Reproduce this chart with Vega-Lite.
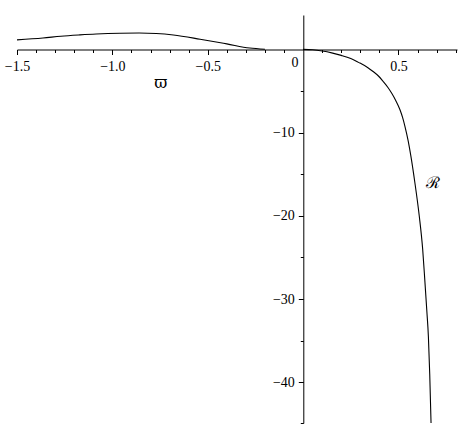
{
  "$schema": "https://vega.github.io/schema/vega-lite/v6.json",
  "width": 440,
  "height": 408,
  "autosize": "none",
  "padding": {"left": 17, "top": 15, "right": 6, "bottom": 9},
  "background": "white",
  "config": {"view": {"stroke": null}, "font": "Liberation Serif"},
  "datasets": {
    "curve": [
      {"w": -1.5, "R": 1.14, "branch": "L"},
      {"w": -1.364, "R": 1.36, "branch": "L"},
      {"w": -1.27, "R": 1.58, "branch": "L"},
      {"w": -1.17, "R": 1.74, "branch": "L"},
      {"w": -1.085, "R": 1.85, "branch": "L"},
      {"w": -0.96, "R": 1.94, "branch": "L"},
      {"w": -0.86, "R": 1.96, "branch": "L"},
      {"w": -0.77, "R": 1.9, "branch": "L"},
      {"w": -0.68, "R": 1.72, "branch": "L"},
      {"w": -0.54, "R": 1.22, "branch": "L"},
      {"w": -0.4, "R": 0.66, "branch": "L"},
      {"w": -0.28, "R": 0.16, "branch": "L"},
      {"w": -0.2, "R": 0.02, "branch": "L"},
      {"w": 0.0, "R": 0.0, "branch": "R"},
      {"w": 0.05, "R": -0.05, "branch": "R"},
      {"w": 0.1, "R": -0.2, "branch": "R"},
      {"w": 0.15, "R": -0.42, "branch": "R"},
      {"w": 0.2, "R": -0.72, "branch": "R"},
      {"w": 0.25, "R": -1.1, "branch": "R"},
      {"w": 0.298, "R": -1.65, "branch": "R"},
      {"w": 0.34, "R": -2.2, "branch": "R"},
      {"w": 0.367, "R": -2.66, "branch": "R"},
      {"w": 0.395, "R": -3.2, "branch": "R"},
      {"w": 0.42, "R": -3.86, "branch": "R"},
      {"w": 0.444, "R": -4.55, "branch": "R"},
      {"w": 0.464, "R": -5.25, "branch": "R"},
      {"w": 0.487, "R": -6.2, "branch": "R"},
      {"w": 0.508, "R": -7.25, "branch": "R"},
      {"w": 0.522, "R": -8.2, "branch": "R"},
      {"w": 0.534, "R": -9.24, "branch": "R"},
      {"w": 0.551, "R": -11.0, "branch": "R"},
      {"w": 0.565, "R": -12.8, "branch": "R"},
      {"w": 0.586, "R": -16.0, "branch": "R"},
      {"w": 0.609, "R": -20.0, "branch": "R"},
      {"w": 0.627, "R": -24.0, "branch": "R"},
      {"w": 0.639, "R": -28.0, "branch": "R"},
      {"w": 0.649, "R": -31.5, "branch": "R"},
      {"w": 0.657, "R": -34.5, "branch": "R"},
      {"w": 0.664, "R": -39.0, "branch": "R"},
      {"w": 0.671, "R": -45, "branch": "R"}
    ],
    "labels": [
      {"x": -0.746, "y": -4.0, "text": "ϖ"},
      {"x": 0.68, "y": -16.1, "text": "ℛ"}
    ],
    "origin": [{"x": 0, "y": 0, "text": "0"}]
  },
  "layer": [
    {
      "data": {"name": "curve"},
      "mark": {"type": "line", "color": "black", "strokeWidth": 1.1, "clip": true, "interpolate": "monotone"},
      "encoding": {
        "x": {
          "field": "w", "type": "quantitative",
          "scale": {"domain": [-1.5, 0.807], "nice": false, "zero": false},
          "axis": {
            "orient": "bottom", "offset": -373.5, "title": null, "grid": false,
            "values": [-1.5, -1, -0.5, 0.5], "format": ".1f",
            "labelFont": "Liberation Serif", "labelFontSize": 14, "labelColor": "black",
            "tickSize": 5, "tickColor": "black", "domainColor": "black",
            "labelPadding": 5, "labelFlush": false, "labelOverlap": false
          }
        },
        "y": {
          "field": "R", "type": "quantitative",
          "scale": {"domain": [-44.9, 4.13], "nice": false, "zero": false},
          "axis": {
            "orient": "left", "offset": -286.3, "title": null, "grid": false,
            "values": [-10, -20, -30, -40], "format": "d",
            "labelFont": "Liberation Serif", "labelFontSize": 14, "labelColor": "black",
            "tickSize": 5, "tickColor": "black", "domainColor": "black",
            "labelPadding": 4, "labelFlush": false, "labelOverlap": false
          }
        },
        "detail": {"field": "branch"}
      }
    },
    {
      "data": {"name": "curve"},
      "mark": {"type": "line", "opacity": 0},
      "encoding": {
        "x": {
          "field": "w", "type": "quantitative",
          "axis": {
            "orient": "bottom", "offset": -373.5, "title": null, "grid": false,
            "values": [-1.4, -1.3, -1.2, -1.1, -0.9, -0.8, -0.7, -0.6, -0.4, -0.3, -0.2, -0.1, 0.1, 0.2, 0.3, 0.4, 0.6, 0.7, 0.8],
            "labels": false, "domain": false, "tickSize": 3, "tickColor": "black"
          }
        },
        "y": {
          "field": "R", "type": "quantitative",
          "axis": {
            "orient": "left", "offset": -286.3, "title": null, "grid": false,
            "values": [-5, -15, -25, -35, -44.9],
            "labels": false, "domain": false, "tickSize": 3, "tickColor": "black"
          }
        },
        "detail": {"field": "branch"}
      }
    },
    {
      "data": {"name": "labels"},
      "mark": {"type": "text", "font": "DejaVu Serif", "fontSize": 16, "color": "black", "baseline": "middle", "align": "center"},
      "encoding": {
        "x": {"field": "x", "type": "quantitative", "axis": null},
        "y": {"field": "y", "type": "quantitative", "axis": null},
        "text": {"field": "text"}
      }
    },
    {
      "data": {"name": "origin"},
      "mark": {"type": "text", "font": "Liberation Serif", "fontSize": 14, "color": "black", "baseline": "middle", "align": "center", "dx": -8, "dy": 14},
      "encoding": {
        "x": {"field": "x", "type": "quantitative", "axis": null},
        "y": {"field": "y", "type": "quantitative", "axis": null},
        "text": {"field": "text"}
      }
    }
  ],
  "resolve": {"axis": {"x": "independent", "y": "independent"}}
}
